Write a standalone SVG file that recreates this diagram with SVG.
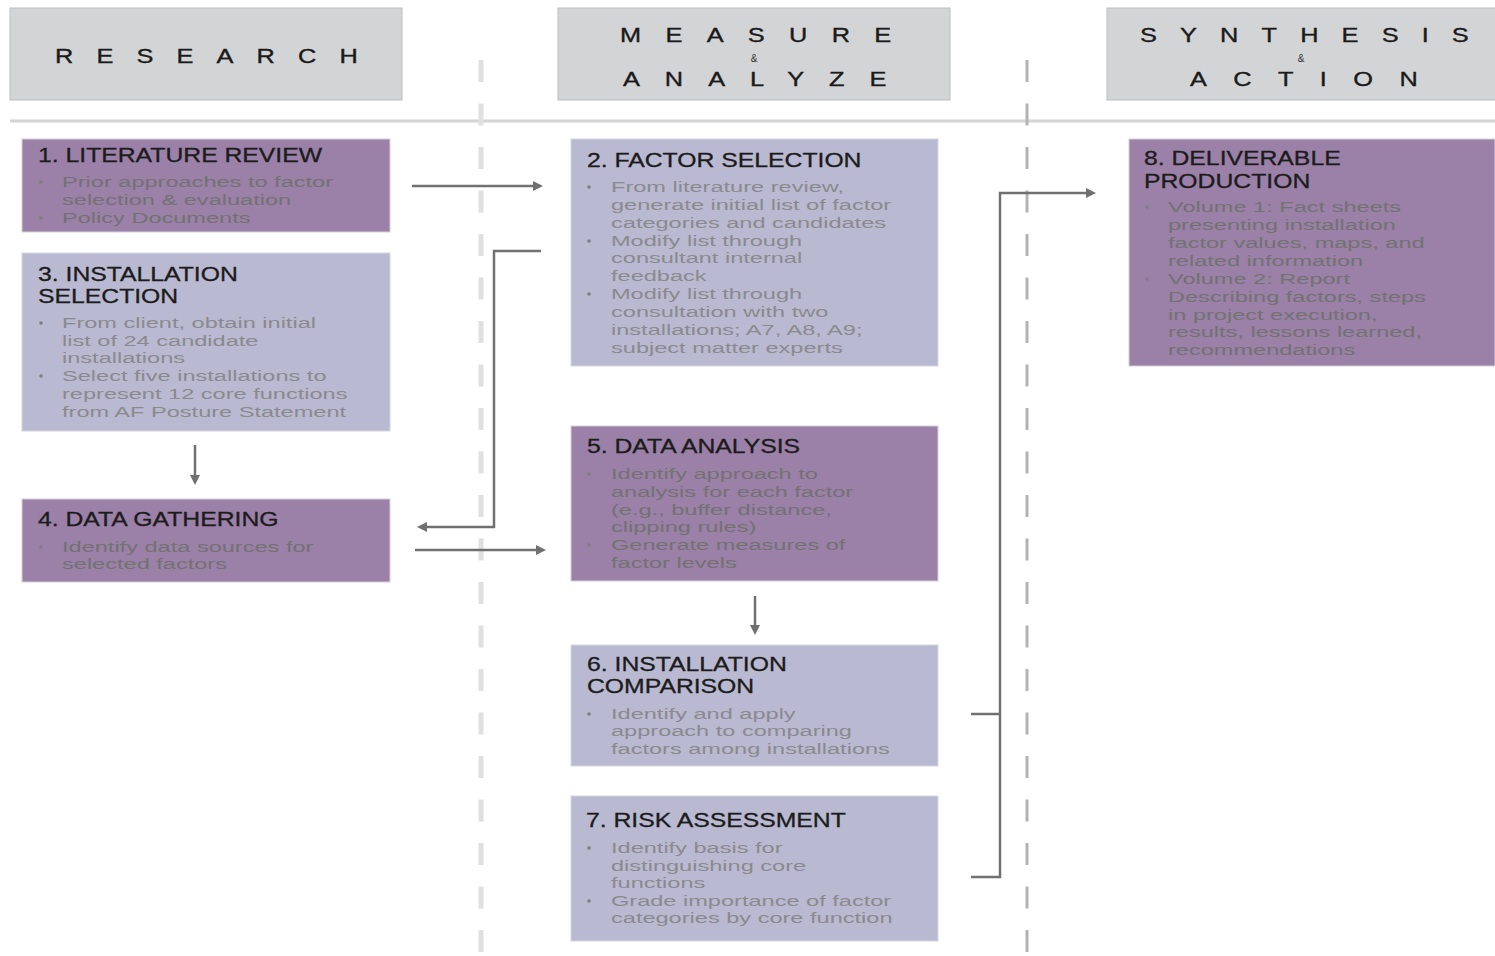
<svg xmlns="http://www.w3.org/2000/svg" width="1495" height="956" viewBox="0 0 1495 956">
<style>
.hdr{fill:#d3d4d6;stroke:#bdbdbd;stroke-width:1}
.ht{font-family:"Liberation Sans",Arial,sans-serif;font-size:19.5px;fill:#1a1a1a;stroke:#1a1a1a;stroke-width:0.35}
.amp{font-family:"Liberation Sans",Arial,sans-serif;font-size:10px;fill:#333;text-anchor:middle}
.pur{fill:#9b80a8;stroke:#d6d0da;stroke-width:1}
.lav{fill:#b9b9d1;stroke:#d6d6e2;stroke-width:1}
.t{font-family:"Liberation Sans",Arial,sans-serif;font-size:19.5px;fill:#1c1c1c;stroke:#1c1c1c;stroke-width:0.3}
.b{font-family:"Liberation Sans",Arial,sans-serif;font-size:15.5px;fill:#8a8a8e}
.p .b{fill:#727272}
.dot{fill:#7e7e82}
.sep{stroke:#d4d4d4;stroke-width:3;fill:none}
.dl{stroke:#e0e0e0;stroke-width:5;stroke-dasharray:22 21.5;fill:none}
.dr{stroke:#b3b3b3;stroke-width:3;stroke-dasharray:22 21.5;fill:none}
.c{stroke:#707070;stroke-width:2.5;fill:none}
</style>
<defs>
<marker id="ah" markerUnits="userSpaceOnUse" markerWidth="12" markerHeight="12" refX="6" refY="5" orient="auto">
<path d="M0,0 L10,5 L0,10 z" fill="#707070"/>
</marker>
</defs>
<rect width="1495" height="956" fill="#ffffff"/>

<g id="headers">
<rect class="hdr" x="10" y="8" width="392" height="92"/>
<text class="ht" transform="matrix(1.3 0 0 1 55 63)" letter-spacing="17.8">RESEARCH</text>
<rect class="hdr" x="558" y="8" width="392" height="92"/>
<text class="ht" transform="matrix(1.3 0 0 1 620 41.5)" letter-spacing="18.7">MEASURE</text>
<text class="amp" x="754" y="62">&amp;</text>
<text class="ht" transform="matrix(1.3 0 0 1 623 86)" letter-spacing="19.2">ANALYZE</text>
<rect class="hdr" x="1107" y="8" width="390" height="92"/>
<text class="ht" transform="matrix(1.3 0 0 1 1140 41.5)" letter-spacing="17.8">SYNTHESIS</text>
<text class="amp" x="1301" y="62">&amp;</text>
<text class="ht" transform="matrix(1.3 0 0 1 1190 86)" letter-spacing="20.3">ACTION</text>
</g>

<g id="guides">
<line class="sep" x1="10" y1="121" x2="1495" y2="121"/>
<line class="dl" x1="481" y1="60" x2="481" y2="956"/>
<line class="dr" x1="1027" y1="60" x2="1027" y2="956"/>
</g>

<g id="connectors">
<path class="c" d="M412,186 H539" marker-end="url(#ah)"/>
<path class="c" d="M541,251 H494 V527 H421" marker-end="url(#ah)"/>
<path class="c" d="M195,445 V481" marker-end="url(#ah)"/>
<path class="c" d="M415,550 H542" marker-end="url(#ah)"/>
<path class="c" d="M755,596 V631" marker-end="url(#ah)"/>
<path class="c" d="M971,714 H1000"/>
<path class="c" d="M971,877 H1000 V193 H1092" marker-end="url(#ah)"/>
</g>

<g id="node1" class="p">
<rect class="pur" x="22" y="139" width="368" height="93"/>
<text class="t" transform="matrix(1.27 0 0 1 38 162)">1. LITERATURE REVIEW</text>
<circle class="dot" cx="41" cy="182" r="1.8"/>
<text class="b" transform="matrix(1.52 0 0 1 62 187)">Prior approaches to factor</text>
<text class="b" transform="matrix(1.52 0 0 1 62 205)">selection &amp; evaluation</text>
<circle class="dot" cx="41" cy="218" r="1.8"/>
<text class="b" transform="matrix(1.52 0 0 1 62 223)">Policy Documents</text>
</g>

<g id="node3">
<rect class="lav" x="22" y="253" width="368" height="178"/>
<text class="t" transform="matrix(1.27 0 0 1 38 281)">3. INSTALLATION</text>
<text class="t" transform="matrix(1.27 0 0 1 38 303)">SELECTION</text>
<circle class="dot" cx="41" cy="323" r="1.8"/>
<text class="b" transform="matrix(1.52 0 0 1 62 328)">From client, obtain initial</text>
<text class="b" transform="matrix(1.52 0 0 1 62 346)">list of 24 candidate</text>
<text class="b" transform="matrix(1.52 0 0 1 62 363)">installations</text>
<circle class="dot" cx="41" cy="376" r="1.8"/>
<text class="b" transform="matrix(1.52 0 0 1 62 381)">Select five installations to</text>
<text class="b" transform="matrix(1.52 0 0 1 62 399)">represent 12 core functions</text>
<text class="b" transform="matrix(1.52 0 0 1 62 417)">from AF Posture Statement</text>
</g>

<g id="node4" class="p">
<rect class="pur" x="22" y="499" width="368" height="83"/>
<text class="t" transform="matrix(1.27 0 0 1 38 526)">4. DATA GATHERING</text>
<circle class="dot" cx="41" cy="547" r="1.8"/>
<text class="b" transform="matrix(1.52 0 0 1 62 552)">Identify data sources for</text>
<text class="b" transform="matrix(1.52 0 0 1 62 569)">selected factors</text>
</g>

<g id="node2">
<rect class="lav" x="571" y="139" width="367" height="227"/>
<text class="t" transform="matrix(1.27 0 0 1 587 167)">2. FACTOR SELECTION</text>
<circle class="dot" cx="589" cy="187" r="1.8"/>
<text class="b" transform="matrix(1.52 0 0 1 611 192)">From literature review,</text>
<text class="b" transform="matrix(1.52 0 0 1 611 210)">generate initial list of factor</text>
<text class="b" transform="matrix(1.52 0 0 1 611 228)">categories and candidates</text>
<circle class="dot" cx="589" cy="241" r="1.8"/>
<text class="b" transform="matrix(1.52 0 0 1 611 246)">Modify list through</text>
<text class="b" transform="matrix(1.52 0 0 1 611 263)">consultant internal</text>
<text class="b" transform="matrix(1.52 0 0 1 611 281)">feedback</text>
<circle class="dot" cx="589" cy="294" r="1.8"/>
<text class="b" transform="matrix(1.52 0 0 1 611 299)">Modify list through</text>
<text class="b" transform="matrix(1.52 0 0 1 611 317)">consultation with two</text>
<text class="b" transform="matrix(1.52 0 0 1 611 335)">installations; A7, A8, A9;</text>
<text class="b" transform="matrix(1.52 0 0 1 611 353)">subject matter experts</text>
</g>

<g id="node5" class="p">
<rect class="pur" x="571" y="426" width="367" height="155"/>
<text class="t" transform="matrix(1.27 0 0 1 587 453)">5. DATA ANALYSIS</text>
<circle class="dot" cx="589" cy="474" r="1.8"/>
<text class="b" transform="matrix(1.52 0 0 1 611 479)">Identify approach to</text>
<text class="b" transform="matrix(1.52 0 0 1 611 497)">analysis for each factor</text>
<text class="b" transform="matrix(1.52 0 0 1 611 515)">(e.g., buffer distance,</text>
<text class="b" transform="matrix(1.52 0 0 1 611 532)">clipping rules)</text>
<circle class="dot" cx="589" cy="545" r="1.8"/>
<text class="b" transform="matrix(1.52 0 0 1 611 550)">Generate measures of</text>
<text class="b" transform="matrix(1.52 0 0 1 611 568)">factor levels</text>
</g>

<g id="node6">
<rect class="lav" x="571" y="645" width="367" height="121"/>
<text class="t" transform="matrix(1.27 0 0 1 587 671)">6. INSTALLATION</text>
<text class="t" transform="matrix(1.27 0 0 1 587 693)">COMPARISON</text>
<circle class="dot" cx="589" cy="714" r="1.8"/>
<text class="b" transform="matrix(1.52 0 0 1 611 719)">Identify and apply</text>
<text class="b" transform="matrix(1.52 0 0 1 611 736)">approach to comparing</text>
<text class="b" transform="matrix(1.52 0 0 1 611 754)">factors among installations</text>
</g>

<g id="node7">
<rect class="lav" x="571" y="796" width="367" height="145"/>
<text class="t" transform="matrix(1.27 0 0 1 586 827)">7. RISK ASSESSMENT</text>
<circle class="dot" cx="589" cy="848" r="1.8"/>
<text class="b" transform="matrix(1.52 0 0 1 611 853)">Identify basis for</text>
<text class="b" transform="matrix(1.52 0 0 1 611 871)">distinguishing core</text>
<text class="b" transform="matrix(1.52 0 0 1 611 888)">functions</text>
<circle class="dot" cx="589" cy="901" r="1.8"/>
<text class="b" transform="matrix(1.52 0 0 1 611 906)">Grade importance of factor</text>
<text class="b" transform="matrix(1.52 0 0 1 611 923)">categories by core function</text>
</g>

<g id="node8" class="p">
<rect class="pur" x="1129" y="139" width="366" height="227"/>
<text class="t" transform="matrix(1.27 0 0 1 1144 165)">8. DELIVERABLE</text>
<text class="t" transform="matrix(1.27 0 0 1 1144 188)">PRODUCTION</text>
<circle class="dot" cx="1147" cy="207" r="1.8"/>
<text class="b" transform="matrix(1.52 0 0 1 1168 212)">Volume 1: Fact sheets</text>
<text class="b" transform="matrix(1.52 0 0 1 1168 230)">presenting installation</text>
<text class="b" transform="matrix(1.52 0 0 1 1168 248)">factor values, maps, and</text>
<text class="b" transform="matrix(1.52 0 0 1 1168 266)">related information</text>
<circle class="dot" cx="1147" cy="279" r="1.8"/>
<text class="b" transform="matrix(1.52 0 0 1 1168 284)">Volume 2: Report</text>
<text class="b" transform="matrix(1.52 0 0 1 1168 302)">Describing factors, steps</text>
<text class="b" transform="matrix(1.52 0 0 1 1168 320)">in project execution,</text>
<text class="b" transform="matrix(1.52 0 0 1 1168 337)">results, lessons learned,</text>
<text class="b" transform="matrix(1.52 0 0 1 1168 355)">recommendations</text>
</g>
</svg>
